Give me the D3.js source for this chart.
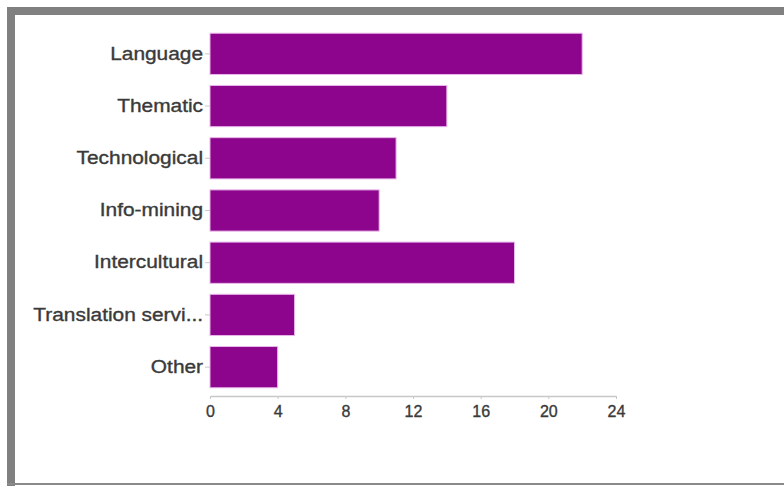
<!DOCTYPE html>
<html>
<head>
<meta charset="utf-8">
<script src="https://cdn.jsdelivr.net/npm/d3@7"></script>
<style>
  body { margin: 0; background: #fff; }
  text { font-family: "Liberation Sans", Arial, sans-serif; }
</style>
</head>
<body>
<div id="chart"></div>
<script>
const categories = ["Language", "Thematic", "Technological", "Info-mining", "Intercultural", "Translation servi...", "Other"];
const counts = [22, 14, 11, 10, 18, 5, 4];
const xTicks = [0, 4, 8, 12, 16, 20, 24];

const data = categories.map((c, i) => ({ category: c, value: counts[i] }));

const width = 784;
const height = 486;
const margin = { left: 210, right: 168, top: 28, bottom: 93 };

const svg = d3
  .select("#chart")
  .append("svg")
  .attr("width", width)
  .attr("height", height);

// grey frame around the screenshot
svg.append("rect").attr("x", 7).attr("y", 7).attr("width", width - 7).attr("height", 8).attr("fill", "#808080");
svg.append("rect").attr("x", 7).attr("y", 7).attr("width", 8).attr("height", height - 7).attr("fill", "#808080");
svg.append("rect").attr("x", 7).attr("y", 483).attr("width", width - 7).attr("height", 2).attr("fill", "#8a8a8a");

const x = d3
  .scaleLinear()
  .domain([0, 24])
  .range([margin.left, width - margin.right]);

const y = d3
  .scaleBand()
  .domain(categories)
  .range([margin.top, height - margin.bottom])
  .paddingInner(0.21)
  .paddingOuter(0.1);

const axisY = height - margin.bottom + 3;

svg
  .selectAll("rect.bar")
  .data(data)
  .join("rect")
  .attr("class", "bar")
  .attr("x", x(0))
  .attr("y", (d) => y(d.category))
  .attr("width", (d) => x(d.value) - x(0))
  .attr("height", y.bandwidth())
  .attr("fill", "#8c058c")
  .attr("stroke", "#e9b8ea")
  .attr("stroke-width", 1);

// x axis
const xAxis = svg
  .append("g")
  .attr("transform", `translate(0, ${axisY})`)
  .call(d3.axisBottom(x).tickValues(xTicks).tickSize(3).tickSizeOuter(0).tickPadding(7));
xAxis.select(".domain").attr("stroke", "#c8c8c8").attr("stroke-width", 1.5);
xAxis.selectAll(".tick line").attr("stroke", "#c8c8c8");
xAxis
  .selectAll(".tick text")
  .attr("font-size", 16)
  .attr("fill", "#3a3a3a")
  .attr("stroke", "#3a3a3a")
  .attr("stroke-width", 0.35);

// y axis
const yAxis = svg
  .append("g")
  .attr("transform", `translate(${x(0)}, 0)`)
  .call(d3.axisLeft(y).tickSize(5).tickSizeOuter(0).tickPadding(1));
yAxis.select(".domain").remove();
yAxis.selectAll(".tick line").attr("stroke", "#c8c8c8");
yAxis
  .selectAll(".tick text")
  .attr("font-size", 18)
  .attr("fill", "#3a3a3a")
  .attr("stroke", "#3a3a3a")
  .attr("stroke-width", 0.35)
  .attr("transform", "scale(1.16,1)");
</script>
</body>
</html>
